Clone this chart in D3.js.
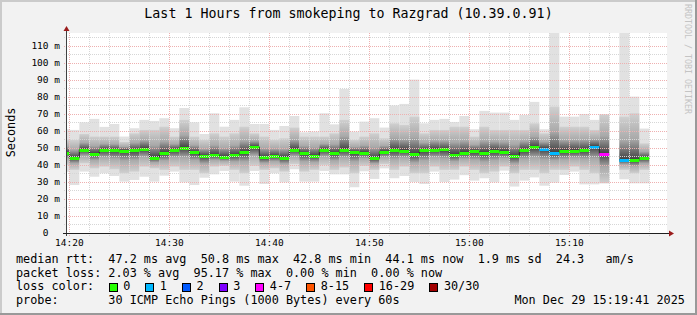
<!DOCTYPE html>
<html>
<head>
<meta charset="utf-8">
<script src="https://cdn.jsdelivr.net/npm/d3@7"></script>
<style>
body { margin: 0; background: #f2f2f2; }
svg { display: block; font-family: "DejaVu Sans Mono", monospace; }
text { white-space: pre; }
</style>
</head>
<body>
<div id="chart"></div>
<script>
// one value per minute, first entry is the 14:19 minute (partly off the left edge)
const firstMinute = "14:19";
const medianRtt = [47.3, 44.2, 49.0, 46.7, 48.9, 48.7, 48.5, 48.6, 49.5, 44.3,
                   47.0, 48.8, 50.2, 47.5, 45.3, 46.0, 44.7, 45.9, 47.5, 50.6,
                   44.4, 45.4, 44.3, 49.0, 46.8, 45.4, 49.0, 47.0, 49.0, 47.5,
                   47.3, 43.9, 47.8, 48.8, 48.5, 46.3, 48.7, 49.0, 49.1, 46.1,
                   47.3, 48.0, 47.3, 48.4, 47.8, 45.3, 48.8, 50.4, 49.6, 47.3,
                   48.4, 48.4, 48.8, 50.8, 46.7, null, 43.1, 42.8, 44.1, null, null];
const pingMin = [36.0, 28.2, 36.1, 33.1, 35.1, 33.5, 30.2, 31.2, 33.1, 30.2,
                 33.7, 36.1, 29.8, 28.2, 32.5, 34.5, 36.5, 30.2, 27.8, 36.5,
                 28.8, 35.1, 29.8, 37.5, 30.2, 30.2, 36.5, 34.5, 34.5, 26.9,
                 36.3, 31.8, 38.0, 32.2, 33.5, 30.0, 28.8, 36.1, 30.0, 31.4,
                 34.0, 30.8, 32.2, 29.8, 36.7, 27.3, 30.8, 32.7, 27.8, 29.6,
                 34.1, 36.1, 28.6, 28.6, 29.2, null, 31.6, 29.2, 29.2, null, null];
const pingLow = [40.0, 37.1, 41.0, 38.0, 39.0, 37.5, 35.1, 36.1, 39.0, 38.0,
                 37.1, 39.0, 37.1, 37.1, 35.1, 39.0, 39.5, 37.1, 35.1, 39.5,
                 37.1, 38.0, 36.1, 40.5, 36.1, 37.1, 40.0, 37.1, 38.5, 35.1,
                 39.5, 37.1, 40.5, 37.1, 39.0, 35.1, 35.1, 39.0, 37.1, 37.1,
                 39.0, 37.1, 35.1, 36.1, 39.0, 35.1, 37.1, 37.1, 35.1, 37.1,
                 37.1, 39.0, 37.1, 35.1, 29.2, null, 37.1, 35.1, 37.1, null, null];
const pingHigh = [55.0, 54.7, 58.2, 56.7, 56.7, 56.7, 53.5, 58.6, 60.6, 60.6,
                  62.5, 56.7, 66.5, 56.7, 54.7, 58.6, 56.7, 58.6, 62.5, 58.6,
                  56.7, 54.7, 55.7, 62.0, 56.7, 56.7, 56.7, 58.6, 66.5, 54.7,
                  56.7, 58.6, 55.7, 64.5, 63.5, 68.4, 58.6, 60.6, 60.6, 62.5,
                  62.5, 56.7, 62.5, 60.6, 60.6, 60.6, 60.6, 64.5, 58.6, 74.3,
                  62.5, 62.5, 62.5, 60.6, 69.8, null, 68.4, 70.4, 52.7, null, null];
const pingMax = [61.0, 60.6, 65.1, 67.1, 62.4, 64.1, 56.7, 61.6, 66.5, 65.9,
                 67.5, 61.6, 73.5, 65.1, 58.2, 70.4, 62.5, 66.5, 73.9, 64.1,
                 64.1, 60.6, 62.9, 68.8, 59.2, 59.6, 70.4, 63.9, 84.7, 59.6,
                 65.5, 67.5, 62.0, 75.0, 75.9, 90.2, 64.5, 66.5, 67.1, 65.3,
                 68.8, 61.0, 71.8, 70.8, 70.8, 66.5, 69.4, 77.1, 61.0, 118.0,
                 68.4, 68.4, 70.0, 66.5, 69.8, null, 118.0, 80.2, 61.4, null, null];
const lostPings = [0, 0, 0, 0, 0, 0, 0, 0, 0, 0,
                   0, 0, 0, 0, 0, 0, 0, 0, 0, 0,
                   0, 0, 0, 0, 0, 0, 0, 0, 0, 0,
                   0, 0, 0, 0, 0, 0, 0, 0, 0, 0,
                   0, 0, 0, 0, 0, 0, 0, 0, 1, 1,
                   0, 0, 0, 1, 5, 30, 1, 0, 0, null, null];

const lossLabels = ["0", "1", "2", "3", "4-7", "8-15", "16-29", "30/30"];
const lossColors = ["#26ff00", "#00b8ff", "#0059ff", "#7e00ff", "#ff00ff", "#ff5500", "#ff0000", "#a10000"];
const lossSteps = [1, 2, 3, 4, 8, 16, 30];

const yTicks = [0, 10, 20, 30, 40, 50, 60, 70, 80, 90, 100, 110];
const yMinorTicks = [5, 15, 25, 35, 45, 55, 65, 75, 85, 95, 105, 115];

const titleText = "Last 1 Hours from smokeping to Razgrad (10.39.0.91)";
const legendLines = [
  "median rtt:  47.2 ms avg  50.8 ms max  42.8 ms min  44.1 ms now  1.9 ms sd  24.3   am/s",
  "packet loss: 2.03 % avg  95.17 % max  0.00 % min  0.00 % now",
  "loss color:",
  "probe:       30 ICMP Echo Pings (1000 Bytes) every 60s"
];
const dateText = "Mon Dec 29 15:19:41 2025";

const W = 697, H = 315;
const plotL = 67, plotR = 667, plotT = 33, plotB = 233;
const charW = 7.12;

const parseT = d3.timeParse("%H:%M:%S");
const x = d3.scaleTime()
  .domain([parseT("14:19:46"), parseT("15:19:46")])
  .range([plotL, plotR]);
const y = d3.scaleLinear().domain([0, 117.6]).range([plotB, plotT]);
const lossColor = d3.scaleThreshold().domain(lossSteps).range(lossColors);

const t0 = d3.timeParse("%H:%M")(firstMinute);
const cols = medianRtt.map((m, i) => ({
  i: i,
  t0: d3.timeMinute.offset(t0, i),
  t1: d3.timeMinute.offset(t0, i + 1),
  med: m, lo: pingMin[i], q1: pingLow[i], q3: pingHigh[i], hi: pingMax[i], loss: lostPings[i]
}));

let svg = d3.select("#chart").append("svg")
    .attr("width", W)
    .attr("height", H)
  ;

// background and 3d frame
svg.append("rect").attr("width", W).attr("height", H).attr("fill", "#f2f2f2");
svg.append("path").attr("d", `M1,${H} V1 H${W}`).attr("stroke", "#cbcbcb").attr("stroke-width", 2).attr("fill", "none");
svg.append("path").attr("d", `M0,${H - 1} H${W - 1} V0`).attr("stroke", "#999999").attr("stroke-width", 2).attr("fill", "none");

svg.append("rect")
  .attr("x", plotL).attr("y", plotT)
  .attr("width", plotR - plotL).attr("height", plotB - plotT)
  .attr("fill", "white");

let defs = svg.append("defs");
defs.append("clipPath").attr("id", "plotclip")
  .append("rect")
    .attr("x", plotL).attr("y", plotT)
    .attr("width", plotR - plotL).attr("height", plotB - plotT);

let plot = svg.append("g").attr("clip-path", "url(#plotclip)");

// smoke: outer band min..max
plot.selectAll("rect.outer")
  .data(cols.filter(d => d.lo != null && d.loss < 4))
  .enter()
  .append("rect")
    .attr("class", "outer")
    .attr("x", d => x(d.t0))
    .attr("width", d => x(d.t1) - x(d.t0))
    .attr("y", d => y(d.hi))
    .attr("height", d => y(d.lo) - y(d.hi))
    .attr("fill", "#e1e1e1");

// smoke: inner band, shaded darker towards the median
let withSmoke = cols.filter(d => d.q1 != null);
let grads = defs.selectAll("linearGradient")
  .data(withSmoke)
  .enter()
  .append("linearGradient")
    .attr("id", d => "smk" + d.i)
    .attr("x1", 0).attr("y1", 0).attr("x2", 0).attr("y2", 1);
function medPos(d){
  return (d.q3 - d.med) / (d.q3 - d.q1);
}
grads.append("stop").attr("offset", 0).attr("stop-color", "#d0d0d0");
grads.append("stop").attr("offset", d => medPos(d) * 0.55).attr("stop-color", "#a9a9a9");
grads.append("stop").attr("offset", medPos).attr("stop-color", "#404040");
grads.append("stop").attr("offset", d => medPos(d) + (1 - medPos(d)) * 0.45).attr("stop-color", "#a9a9a9");
grads.append("stop").attr("offset", 1).attr("stop-color", "#d0d0d0");

plot.selectAll("rect.inner")
  .data(withSmoke)
  .enter()
  .append("rect")
    .attr("class", "inner")
    .attr("x", d => x(d.t0))
    .attr("width", d => x(d.t1) - x(d.t0))
    .attr("y", d => y(d.q3))
    .attr("height", d => y(d.q1) - y(d.q3))
    .attr("fill", d => `url(#smk${d.i})`);

// grid
let grid = svg.append("g").attr("fill", "none").attr("stroke-width", 1).attr("stroke-dasharray", "1,1");
grid.selectAll("line.hmin").data(yMinorTicks).enter()
  .append("line")
    .attr("x1", plotL - 3).attr("x2", plotR)
    .attr("y1", d => Math.round(y(d)) + 0.5).attr("y2", d => Math.round(y(d)) + 0.5)
    .attr("stroke", "#d6d6d6");
grid.selectAll("line.hmaj").data(yTicks.slice(1)).enter()
  .append("line")
    .attr("x1", plotL - 3).attr("x2", plotR)
    .attr("y1", d => Math.round(y(d)) + 0.5).attr("y2", d => Math.round(y(d)) + 0.5)
    .attr("stroke", "#eeb0b0");
let minorTimes = x.ticks(d3.timeMinute.every(2)).filter(d => d.getMinutes() % 10 != 0);
let majorTimes = x.ticks(d3.timeMinute.every(10));
grid.selectAll("line.vmin").data(minorTimes).enter()
  .append("line")
    .attr("x1", d => Math.round(x(d)) + 0.5).attr("x2", d => Math.round(x(d)) + 0.5)
    .attr("y1", plotT).attr("y2", plotB + 3)
    .attr("stroke", "#d6d6d6");
grid.selectAll("line.vmaj").data(majorTimes).enter()
  .append("line")
    .attr("x1", d => Math.round(x(d)) + 0.5).attr("x2", d => Math.round(x(d)) + 0.5)
    .attr("y1", plotT).attr("y2", plotB + 3)
    .attr("stroke", "#eeb0b0");

// median: thin step line plus a loss-coloured bar per minute
let stepPts = [];
cols.forEach((d, i) => {
  if (d.med == null) { stepPts.push({ t: d.t0, v: null }); return; }
  stepPts.push({ t: d.t0, v: d.med });
  let next = cols[i + 1];
  if (!next || next.med == null) stepPts.push({ t: d.t1, v: d.med });
});
let stepLine = d3.line()
  .defined(d => d.v != null)
  .x(d => x(d.t))
  .y(d => y(d.v))
  .curve(d3.curveStepAfter);
plot.append("path")
  .datum(stepPts)
  .attr("d", stepLine)
  .attr("fill", "none")
  .attr("stroke", "#202020")
  .attr("stroke-width", 1);

plot.selectAll("rect.med")
  .data(cols.filter(d => d.med != null))
  .enter()
  .append("rect")
    .attr("class", "med")
    .attr("x", d => x(d.t0))
    .attr("width", d => x(d.t1) - x(d.t0))
    .attr("y", d => Math.round(y(d.med)) - 1)
    .attr("height", 3)
    .attr("fill", d => lossColor(d.loss));

// axes
svg.append("line")
  .attr("x1", plotL - 0.5).attr("x2", plotL - 0.5)
  .attr("y1", plotB + 3).attr("y2", plotT - 4)
  .attr("stroke", "#404040");
svg.append("line")
  .attr("x1", plotL - 4).attr("x2", plotR + 3)
  .attr("y1", plotB + 0.5).attr("y2", plotB + 0.5)
  .attr("stroke", "#202020");
svg.append("path")
  .attr("d", `M${plotL - 3.5},${plotT - 2} L${plotL + 2.5},${plotT - 2} L${plotL - 0.5},${plotT - 7} Z`)
  .attr("fill", "#9b1c1c");
svg.append("path")
  .attr("d", `M${plotR + 2},${plotB - 2.5} L${plotR + 2},${plotB + 3.5} L${plotR + 7},${plotB + 0.5} Z`)
  .attr("fill", "#9b1c1c");

// y labels keep the unit column, so a bare "0" sits under the digits
svg.selectAll("text.ylab").data(yTicks).enter()
  .append("text")
    .attr("class", "ylab")
    .attr("x", 60)
    .attr("y", d => y(d) + 3.4)
    .attr("text-anchor", "end")
    .style("font-size", "9.5px")
    .text(d => d == 0 ? "0  " : d + " m");

let timeFmt = d3.timeFormat("%H:%M");
svg.selectAll("text.xlab").data(majorTimes).enter()
  .append("text")
    .attr("class", "xlab")
    .attr("x", d => x(d))
    .attr("y", 245.5)
    .attr("text-anchor", "middle")
    .style("font-size", "9.5px")
    .text(timeFmt);

// titles
svg.append("text")
  .attr("x", 348.5).attr("y", 18.3)
  .attr("text-anchor", "middle")
  .style("font-size", "13.3px")
  .text(titleText);
svg.append("text")
  .attr("transform", "translate(14.5,132.5) rotate(-90)")
  .attr("text-anchor", "middle")
  .style("font-size", "11.8px")
  .text("Seconds");
svg.append("text")
  .attr("transform", "translate(685,4) rotate(90)")
  .style("font-size", "8.3px")
  .attr("fill", "#c4c4c4")
  .text("RRDTOOL / TOBI OETIKER");

// legend
let legendY = [263, 276.7, 290.3, 304];
svg.selectAll("text.leg").data(legendLines).enter()
  .append("text")
    .attr("class", "leg")
    .attr("x", 16)
    .attr("y", (d, i) => legendY[i])
    .style("font-size", "11.8px")
    .text(d => d);
svg.append("text")
  .attr("x", 16 + 70 * charW)
  .attr("y", legendY[3])
  .style("font-size", "11.8px")
  .text(dateText);

let pos = 13, lossPos = [];
lossLabels.forEach(l => { lossPos.push(pos); pos += 4.15 + l.length; });
let lossLeg = svg.selectAll("g.lossleg").data(lossLabels).enter()
  .append("g").attr("class", "lossleg");
lossLeg.append("rect")
  .attr("x", (d, i) => Math.round(16 + lossPos[i] * charW) + 0.5)
  .attr("y", 283.5)
  .attr("width", 8).attr("height", 8)
  .attr("fill", (d, i) => lossColors[i])
  .attr("stroke", "#000");
lossLeg.append("text")
  .attr("x", (d, i) => 16 + (lossPos[i] + 2.05) * charW)
  .attr("y", legendY[2])
  .style("font-size", "11.8px")
  .text(d => d);
</script>
</body>
</html>
